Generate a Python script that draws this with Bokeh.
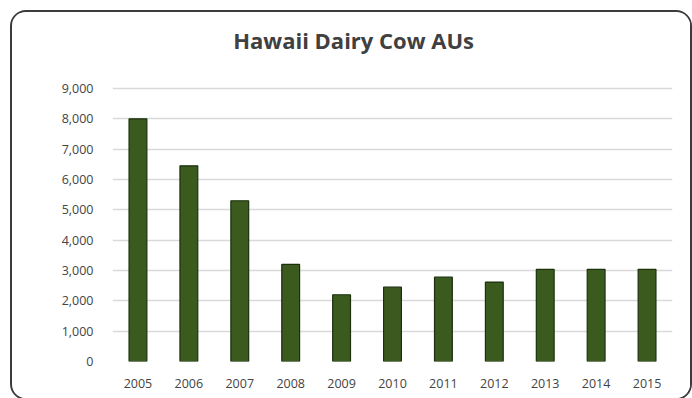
from bokeh.plotting import figure
from bokeh.models import NumeralTickFormatter, FixedTicker
from bokeh.core.properties import value
from bokeh.embed import file_html
from bokeh.resources import INLINE

years = ["2005", "2006", "2007", "2008", "2009", "2010",
         "2011", "2012", "2013", "2014", "2015"]
animal_units = [8000, 6450, 5300, 3200, 2200, 2450, 2780, 2620, 3040, 3040, 3040]
y_ticks = [0, 1000, 2000, 3000, 4000, 5000, 6000, 7000, 8000, 9000]
chart_title = "Hawaii Dairy Cow AUs"

FONT = "Open Sans"
LABEL_COLOR = "#444444"

# the frame extends above the 9,000 line to leave room for the title
Y_TOP = 11176
TITLE_Y = 10600

p = figure(
    x_range=years, y_range=(0, Y_TOP),
    width=682, height=390,
    output_backend="svg", toolbar_location=None,
    min_border_left=100, min_border_right=22,
    min_border_top=10, min_border_bottom=41,
)
# rounded chart-area frame around the whole figure
p.styles = {
    "margin-left": "10px", "margin-top": "10px",
    "border": "2px solid #3c3c3c", "border-radius": "16px",
    "overflow": "hidden",
}

p.vbar(x=years, top=animal_units, width=0.35,
       fill_color="#3a5a1e", line_color="#1c300e", line_width=1.2)

p.text(x=[years[4]], y=[TITLE_Y], text=[chart_title], x_offset=12,
       text_align="center", text_baseline="middle",
       text_font=value(FONT), text_font_size="22px", text_font_style="bold",
       text_color="#404040")

p.outline_line_color = None
p.xgrid.grid_line_color = None
p.ygrid.grid_line_color = "#d9d9d9"
p.ygrid.grid_line_width = 1.5

p.yaxis.ticker = FixedTicker(ticks=y_ticks)
p.yaxis.formatter = NumeralTickFormatter(format="0,0")
for ax in (p.xaxis[0], p.yaxis[0]):
    ax.axis_line_color = None
    ax.major_tick_line_color = None
    ax.minor_tick_line_color = None
    ax.major_label_text_font = FONT
    ax.major_label_text_font_size = "12.5px"
    ax.major_label_text_color = LABEL_COLOR
p.yaxis.major_label_standoff = 13
p.xaxis.major_label_standoff = 11
p.xaxis.group_text_font_size = "0px"
p.x_range.range_padding = 0
p.x_range.group_padding = 0
p.x_range.factor_padding = 0

open("out.html", "w").write(file_html(p, INLINE))
